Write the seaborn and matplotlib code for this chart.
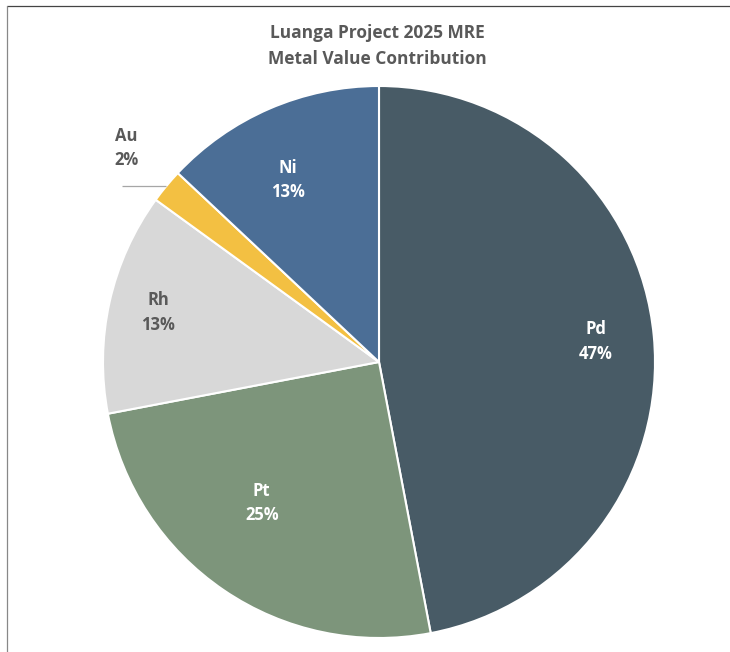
import numpy as np
import matplotlib
matplotlib.use("Agg")
import matplotlib.pyplot as plt
from matplotlib.lines import Line2D
import seaborn as sns

# Metal value contribution of the 2025 mineral resource estimate
metals = ["Pd", "Pt", "Rh", "Au", "Ni"]
shares = [47, 25, 13, 2, 13]
colors = ["#485b66", "#7d957b", "#d8d8d8", "#f3c042", "#4b6e96"]
label_colors = ["white", "white", "#595959", "#595959", "white"]
# label placement: radius (fraction of pie radius) and angular nudge in degrees
label_radius = [0.79, 0.665, 0.82, None, 0.737]
label_nudge = [0.0, -5.5, 0.0, 0.0, 3.2]

sns.set_theme(style="white")
plt.rcParams["font.family"] = ["Open Sans", "DejaVu Sans"]

W, H = 730, 652
fig = plt.figure(figsize=(W / 100, H / 100), dpi=100)
fig.patch.set_facecolor("white")

# pie centre at (379, 362) px from top-left, radius 276 px
cx, cy, R, half = 379, 362, 276, 300
ax = fig.add_axes([(cx - half) / W, (H - cy - half) / H, 2 * half / W, 2 * half / H])

wedges, _ = ax.pie(
    shares, colors=colors, startangle=90, counterclock=False, radius=1.0,
    wedgeprops=dict(edgecolor="white", linewidth=1.5),
)
ax.set_xlim(-half / R, half / R)
ax.set_ylim(-half / R, half / R)
ax.set_aspect("equal")
ax.axis("off")

for w, name, val, tc, r, nd in zip(wedges, metals, shares, label_colors,
                                   label_radius, label_nudge):
    mid = np.deg2rad((w.theta1 + w.theta2) / 2 + nd)
    if r is None:
        ex, ey = np.cos(mid), np.sin(mid)
        ax.plot([ex, -0.93], [ey, ey], color="#a6a6a6", lw=0.9, solid_capstyle="butt")
        ax.text(-0.915, 0.775, f"{name}\n{val}%", ha="center", va="center",
                color=tc, fontsize=12, fontweight="bold", linespacing=1.45)
    else:
        ax.text(r * np.cos(mid), r * np.sin(mid), f"{name}\n{val}%", ha="center",
                va="center", color=tc, fontsize=12, fontweight="bold", linespacing=1.45)

fig.text(377 / W, 1 - 46 / H, "Luanga Project 2025 MRE\nMetal Value Contribution",
         ha="center", va="center", color="#595959", fontsize=12.5, fontweight="bold",
         linespacing=1.5)

# frame edges along the top and left
fig.add_artist(Line2D([7 / W, 1], [1 - 6 / H, 1 - 6 / H], color="#444444", lw=0.9))
fig.add_artist(Line2D([7 / W, 7 / W], [0, 1 - 6 / H], color="#888888", lw=0.9))

fig.savefig("out.png", dpi=100, facecolor="white")
